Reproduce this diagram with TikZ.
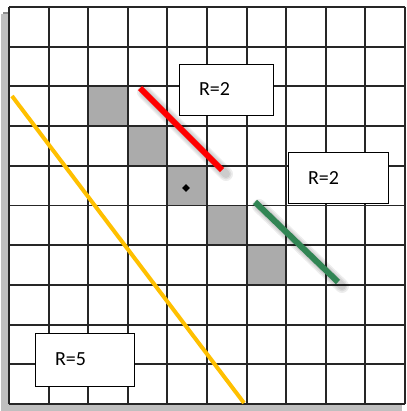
\documentclass[tikz,border=0pt]{standalone}
\usepackage{fontspec}
\setmainfont{Carlito}
\usetikzlibrary{shapes.geometric}
\definecolor{seagreen}{RGB}{49,133,84}
\definecolor{goldline}{RGB}{255,192,0}
\tikzset{
  gridline/.style={draw=black!85, line width=1.9pt},
  cellfill/.style={fill=black!33},
  labelbox/.style={draw=black, line width=0.8pt, fill=white, minimum width=#1, minimum height=51pt, inner sep=0pt, text width=#1-40pt, align=left, font=\fontsize{20}{22}\selectfont},
  redline/.style={draw=red, line width=6pt},
  greenline/.style={draw=seagreen, line width=6pt},
  yellowline/.style={draw=goldline, line width=4pt},
  shadowline/.style={draw=black, opacity=0.07, line width=#1, line cap=round},
}
\begin{document}
\begin{tikzpicture}[x=1pt,y=-1pt]
\useasboundingbox (0,0) rectangle (406,411);
\fill[white] (0,0) rectangle (406,411);
% drop shadow of the board
\fill[black!45] (3,12) rectangle (400,411);
\fill[black!25] (1,14) rectangle (402,411);
\fill[white] (9,7) rectangle (405,404);
% shaded cells
\foreach \i in {2,...,6} {
  \fill[cellfill] (9+39.6*\i,7+39.7*\i) rectangle (9+39.6*\i+39.6,7+39.7*\i+39.7);
}
% grid
\foreach \i in {0,...,10} {
  \draw[gridline] (9+39.6*\i,7) -- (9+39.6*\i,404);
  \draw[gridline] (9,7+39.7*\i) -- (405,7+39.7*\i);
}
% centre marker
\node[diamond, fill=black, inner sep=0pt, minimum size=8pt] (c) at (186,188) {};
% lines
\coordinate (r1) at (140,88);  \coordinate (r2) at (222,170);
\coordinate (g1) at (255,202); \coordinate (g2) at (338,282);
\coordinate (y1) at (12,96);   \coordinate (y2) at (244,403);
\foreach \w in {14pt,11pt,8pt} {
  \draw[shadowline=\w] ([shift={(4,4)}]r1) -- ([shift={(4,4)}]r2);
  \draw[shadowline=\w] ([shift={(4,4)}]g1) -- ([shift={(4,4)}]g2);
}
\draw[redline] (r1) -- (r2);
\draw[greenline] (g1) -- (g2);
\draw[yellowline] (y1) -- (y2);
% labels
\node[labelbox=94pt] (b1) at (226,89.5) {R=2};
\node[labelbox=100pt] (b2) at (338,178) {R=2};
\node[labelbox=99pt, minimum height=53pt] (b3) at (84.5,359.5) {R=5};
\end{tikzpicture}
\end{document}
